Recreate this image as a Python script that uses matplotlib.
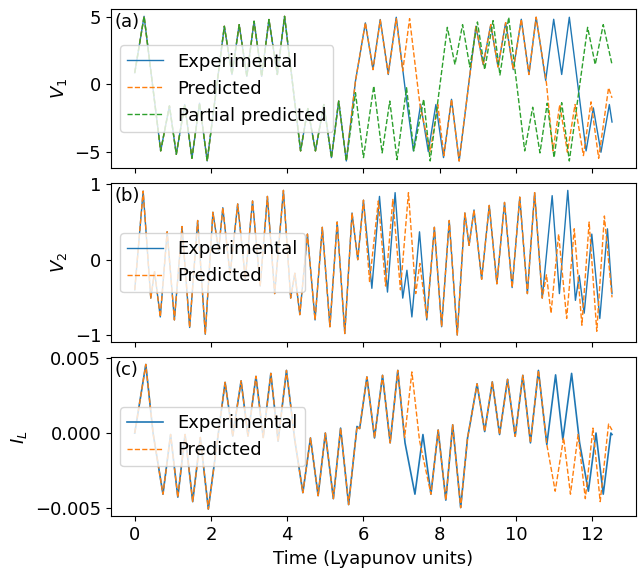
import numpy as np
import matplotlib.pyplot as plt

# ---- panel (a): V1 ----
# common part (all three curves agree)
t_a_early = [0.0, 0.245, 0.68, 0.91, 1.09, 1.31, 1.50, 1.70, 1.90, 2.35, 2.55, 2.74, 2.94,
             3.13, 3.33, 3.52, 3.74, 3.93, 4.35, 4.54, 4.74, 4.96, 5.16, 5.35, 5.55]
v1_early = [0.87, 5.07, -4.95, -1.6, -5.2, -1.5, -5.5, -1.4, -5.7, 4.33, 0.74, 4.45, 0.6,
            4.7, 0.6, 4.83, 0.74, 5.07, -4.95, -1.8, -4.95, -1.5, -5.45, -1.24, -5.7]

t_a_exp = [5.79, 6.05, 6.25, 6.44, 6.65, 6.86, 7.09, 7.31, 7.50, 7.70, 7.90, 8.10, 8.31, 8.51,
           8.95, 9.14, 9.34, 9.53, 9.73, 9.93, 10.14, 10.34, 10.53, 10.78, 10.99, 11.2, 11.40,
           11.84, 12.03, 12.23, 12.45, 12.52]
v1_exp = [0.25, 4.58, 1.11, 4.83, 0.74, 5.0, -0.25, -4.95, -1.48, -5.0, -1.5, -5.45, -1.11, -5.7,
          4.33, 1.48, 4.45, 1.3, 4.6, 1.1, 4.85, 0.74, 5.0, 0.3, 4.85, 0.74, 5.0,
          -4.95, -1.75, -5.05, -1.5, -2.8]

t_a_pred = [5.79, 6.05, 6.25, 6.44, 6.65, 6.86, 7.03, 7.21, 7.48, 7.75, 7.95, 8.11, 8.31, 8.51,
            8.95, 9.14, 9.34, 9.53, 9.73, 9.93, 10.14, 10.34, 10.53, 10.8, 10.97, 11.15, 11.35,
            11.55, 11.77, 11.97, 12.17, 12.43, 12.52]
v1_pred = [0.25, 4.6, 1.1, 4.8, 0.8, 4.9, 1.0, 4.9, -1.5, -5.0, -1.5, -5.3, -1.11, -5.7,
           4.33, 1.48, 4.45, 1.3, 4.6, 1.1, 4.85, 0.74, 5.0, 0.1, -4.95, -1.5, -5.05,
           -1.5, -5.3, -1.3, -5.5, -0.25, -1.0]

t_a_part = [5.79, 6.0, 6.27, 6.49, 6.69, 6.88, 7.13, 7.32, 7.58, 7.75, 8.2, 8.4, 8.6, 8.79,
            8.99, 9.18, 9.4, 9.58, 9.81, 10.23, 10.44, 10.63, 10.82, 11.0, 11.2, 11.4,
            11.88, 12.08, 12.29, 12.52]
v1_part = [-0.62, -5.45, -0.12, -5.1, -1.24, -5.6, -0.25, -4.95, -1.1, -5.7, 4.25, 1.48, 4.45, 1.3,
           4.65, 1.1, 4.75, 0.7, 5.0, -4.95, -1.7, -5.1, -1.4, -5.45, -1.36, -5.7,
           4.25, 1.48, 4.45, 1.48]

# ---- panel (b): V2 ----
t_b_early = [0.0, 0.22, 0.42, 0.52, 0.67, 0.85, 1.04, 1.24, 1.44, 1.65, 1.85, 2.05, 2.2, 2.31,
             2.5, 2.70, 2.9, 3.09, 3.29, 3.48, 3.67, 3.90, 4.09, 4.2, 4.33, 4.53, 4.73, 4.92,
             5.12, 5.31, 5.51, 5.70, 5.85, 6.0]
v2_early = [-0.4, 0.91, -0.51, -0.16, -0.76, 0.37, -0.80, 0.44, -0.90, 0.52, -0.99, 0.63, 0.12, 0.69,
            -0.2, 0.74, -0.25, 0.78, -0.35, 0.84, -0.45, 0.92, -0.51, -0.18, -0.73, 0.34, -0.80, 0.43,
            -0.89, 0.50, -0.98, 0.62, 0.0, 0.79]

t_b_exp = [6.22, 6.42, 6.63, 6.83, 7.03, 7.14, 7.27, 7.47, 7.66, 7.86, 8.05, 8.25, 8.46, 8.66,
           8.77, 8.9, 9.1, 9.3, 9.5, 9.7, 9.9, 10.1, 10.3, 10.49, 10.69, 10.95, 11.14, 11.36,
           11.56, 11.66, 11.79, 11.99, 12.2, 12.4, 12.52]
v2_exp = [-0.38, 0.84, -0.43, 0.89, -0.51, -0.14, -0.76, 0.37, -0.8, 0.43, -0.89, 0.52, -1.0, 0.62,
          0.19, 0.66, -0.26, 0.72, -0.32, 0.76, -0.37, 0.83, -0.45, 0.89, -0.51, 0.85, -0.45, 0.92,
          -0.54, -0.21, -0.71, 0.34, -0.78, 0.41, -0.45]

t_b_pred = [6.16, 6.39, 6.58, 6.77, 6.97, 7.18, 7.37, 7.48, 7.66, 7.86, 8.05, 8.25, 8.46, 8.66,
            8.77, 8.9, 9.1, 9.3, 9.5, 9.7, 9.9, 10.1, 10.3, 10.49, 10.69, 10.8, 10.92, 11.12,
            11.33, 11.53, 11.73, 11.92, 12.12, 12.32, 12.52]
v2_pred = [-0.29, 0.78, -0.35, 0.8, -0.4, 0.89, -0.45, -0.05, -0.78, 0.43, -0.89, 0.52, -1.0, 0.62,
           0.19, 0.66, -0.26, 0.72, -0.32, 0.76, -0.37, 0.83, -0.45, 0.89, -0.51, -0.2, -0.71, 0.34,
           -0.78, 0.41, -0.87, 0.5, -0.95, 0.58, -0.5]

# ---- panel (c): I_L (x 1e-3) ----
t_c_early = [0.0, 0.29, 0.48, 0.74, 0.94, 1.13, 1.32, 1.52, 1.72, 1.93, 2.37, 2.57, 2.79, 2.97,
             3.18, 3.37, 3.57, 3.76, 3.98, 4.2, 4.41, 4.61, 4.81, 5.0, 5.21, 5.4, 5.61, 5.83,
             5.9, 6.09, 6.29, 6.5, 6.7, 6.9]
il_early = [0.0, 4.6, 0.0, -4.1, -0.1, -4.3, -0.1, -4.6, -0.3, -5.1, 3.4, -0.2, 3.5, -0.2,
            3.8, -0.3, 4.0, -0.55, 4.2, -0.5, -4.0, -0.33, -4.2, 0.0, -4.4, 0.33, -4.8, 0.44,
            0.3, 3.76, -0.33, 3.87, -0.66, 4.2]

t_c_exp = [7.09, 7.35, 7.56, 7.77, 7.96, 8.16, 8.34, 8.55, 8.73, 8.8, 8.98, 9.18, 9.38, 9.57,
           9.78, 9.98, 10.18, 10.38, 10.59, 10.81, 11.04, 11.23, 11.46, 11.67, 11.9, 12.1,
           12.29, 12.49, 12.52]
il_exp = [-0.66, -4.1, -0.1, -4.1, 0.2, -4.5, 0.55, -5.0, -0.33, 0.66, 3.3, 0.1, 3.43, -0.1,
          3.6, -0.22, 3.87, -0.66, 4.2, -0.77, 3.9, -0.44, 4.0, -0.66, -3.9, 0.0,
          -4.1, 0.0, -0.1]

t_c_pred = [7.08, 7.27, 7.47, 7.77, 7.96, 8.16, 8.34, 8.55, 8.73, 8.8, 8.98, 9.18, 9.38, 9.57,
            9.78, 9.98, 10.18, 10.38, 10.59, 10.81, 11.03, 11.25, 11.43, 11.63, 11.82, 12.02,
            12.21, 12.43, 12.52]
il_pred = [-0.3, 4.1, -0.5, -4.1, 0.2, -4.5, 0.55, -5.0, -0.33, 0.66, 3.3, 0.1, 3.43, -0.1,
           3.6, -0.22, 3.87, -0.66, 4.2, -0.77, -3.9, -0.3, -4.1, -0.1, -4.4, 0.33,
           -4.6, 0.6, 0.2]

fs = 13
plt.rcParams['font.size'] = fs

fig, axes = plt.subplots(3, 1, sharex=True, figsize=(6.41, 5.68), dpi=100)
fig.subplots_adjust(left=0.173, right=0.992, top=0.984, bottom=0.091, hspace=0.094)

ax = axes[0]
ax.plot(t_a_early + t_a_exp, v1_early + v1_exp, '-', color='tab:blue', lw=1, label='Experimental')
ax.plot(t_a_early + t_a_pred, v1_early + v1_pred, '--', color='tab:orange', lw=1, label='Predicted')
ax.plot(t_a_early + t_a_part, v1_early + v1_part, '--', color='tab:green', lw=1, label='Partial predicted')
ax.set_ylabel('$V_1$')
ax.legend(loc='center left', fontsize=fs)
ax.text(0.006, 0.975, '(a)', transform=ax.transAxes, ha='left', va='top', fontsize=fs)

ax = axes[1]
ax.plot(t_b_early + t_b_exp, v2_early + v2_exp, '-', color='tab:blue', lw=1, label='Experimental')
ax.plot(t_b_early + t_b_pred, v2_early + v2_pred, '--', color='tab:orange', lw=1, label='Predicted')
ax.set_ylabel('$V_2$')
ax.legend(loc='center left', fontsize=fs)
ax.text(0.006, 0.975, '(b)', transform=ax.transAxes, ha='left', va='top', fontsize=fs)

ax = axes[2]
ax.plot(t_c_early + t_c_exp, np.array(il_early + il_exp) * 1e-3, '-', color='tab:blue', lw=1.2,
        label='Experimental')
ax.plot(t_c_early + t_c_pred, np.array(il_early + il_pred) * 1e-3, '--', color='tab:orange', lw=1,
        label='Predicted')
ax.set_ylabel('$I_L$')
ax.legend(loc='center left', fontsize=fs)
ax.text(0.006, 0.975, '(c)', transform=ax.transAxes, ha='left', va='top', fontsize=fs)
ax.set_xlabel('Time (Lyapunov units)')

fig.savefig('out.png', dpi=100)
